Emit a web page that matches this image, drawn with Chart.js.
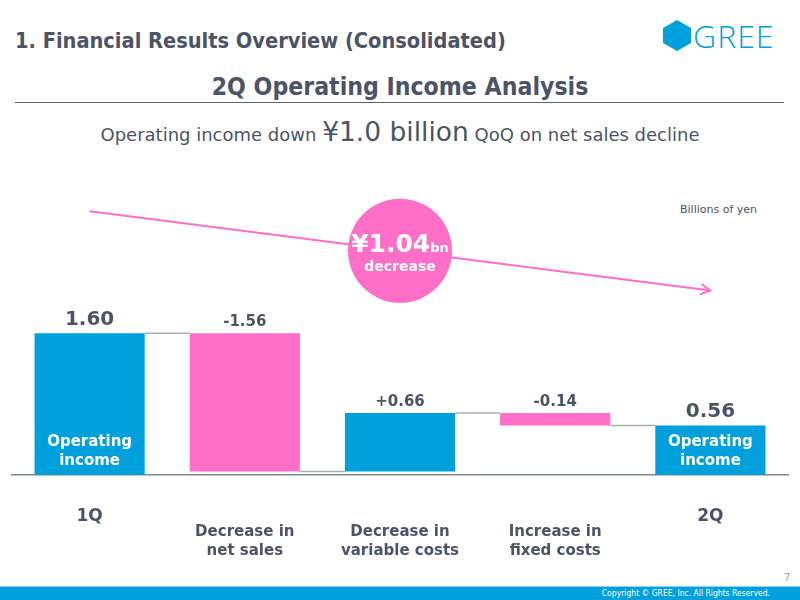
<!DOCTYPE html>
<html>
<head>
<meta charset="utf-8">
<script src="https://cdn.jsdelivr.net/npm/chart.js@4.4.1/dist/chart.umd.min.js"></script>
<style>
  html, body { margin: 0; padding: 0; background: #fff; }
  #page { position: relative; width: 800px; height: 600px; overflow: hidden; font-family: 'DejaVu Sans', sans-serif; color: #4b5466; }
  .abs { position: absolute; white-space: nowrap; }
  #title { left: 15px; top: 28px; font-family: 'DejaVu Sans Condensed', 'DejaVu Sans', sans-serif; font-weight: bold; font-size: 21.6px; }
  #logo { left: 662px; top: 20px; }
  #logoText { left: 693px; top: 14px; font-family: 'Open Sans', sans-serif; font-weight: 300; font-size: 32px; color: #00a0dc; letter-spacing: 1px; }
  #heading { left: 0; width: 800px; top: 72px; text-align: center; font-weight: bold; font-size: 24.6px; font-family: 'DejaVu Sans Condensed', 'DejaVu Sans', sans-serif; }
  #rule { left: 15px; top: 102px; width: 769px; height: 1px; background: #5a6270; }
  #subtitle { left: 0; width: 800px; top: 116px; text-align: center; font-size: 18px; }
  #subtitle .big { font-size: 26.5px; }
  #unit { left: 680px; top: 203px; font-size: 11px; }
  #pageNo { left: 784px; top: 572px; font-size: 10px; color: #9aa0a8; }
  #footer { left: 0; top: 586px; width: 800px; height: 14px; background: #00a0dc; border-top: 1px solid #8fd3ef; }
  #copy { right: 30px; top: 588px; font-family: 'DejaVu Sans Condensed', sans-serif; font-size: 8.5px; color: #fff; }
  #chartBox { position: absolute; left: 0; top: 0; width: 800px; height: 600px; }
</style>
</head>
<body>
<div id="page">
  <div class="abs" id="title">1. Financial Results Overview (Consolidated)</div>
  <svg class="abs" id="logo" width="30" height="31" viewBox="0 0 30 31"><polygon points="15,0 29,8 29,23 15,31 1,23 1,8" fill="#00a0dc"/></svg>
  <div class="abs" id="logoText">GREE</div>
  <div class="abs" id="heading">2Q Operating Income Analysis</div>
  <div class="abs" id="rule"></div>
  <div class="abs" id="subtitle">Operating income down <span class="big">¥1.0 billion</span> QoQ on net sales decline</div>
  <div class="abs" id="unit">Billions of yen</div>
  <div class="abs" id="pageNo">7</div>
  <div class="abs" id="footer"></div>
  <div class="abs" id="copy">Copyright © GREE, Inc. All Rights Reserved.</div>
  <div id="chartBox"><canvas id="waterfall"></canvas></div>
</div>
<script>
const labels = ['1Q', 'Decrease in net sales', 'Decrease in variable costs', 'Increase in fixed costs', '2Q'];
const tickLines = [['1Q'], ['Decrease in', 'net sales'], ['Decrease in', 'variable costs'], ['Increase in', 'fixed costs'], ['2Q']];
const changes = [1.60, -1.56, 0.66, -0.14, 0.56];
const isTotal = [true, false, false, false, true];
const valueLabels = ['1.60', '-1.56', '+0.66', '-0.14', '0.56'];
const badgeMain = '¥1.04';
const badgeUnit = 'bn';
const badgeText = 'decrease';

const BLUE = '#00a0dc';
const PINK = '#ff6ec7';
const TEXT = '#4b5466';

// running total -> floating bar ranges
let running = 0;
const ranges = changes.map((v, i) => {
  if (isTotal[i]) {
    running = v;
    return [0, v];
  }
  const start = running;
  running += v;
  return [start, running];
});

const decor = {
  id: 'decor',
  beforeDatasetsDraw(chart) {
    const { ctx, scales: { x } } = chart;
    const meta = chart.getDatasetMeta(0);
    const first = meta.data[0];
    const last = meta.data[meta.data.length - 1];
    // trend arrow from 1Q to 2Q
    const x1 = first.x, y1 = first.y - 122;
    const x2 = last.x, y2 = last.y - 135;
    ctx.save();
    ctx.strokeStyle = PINK;
    ctx.lineWidth = 2;
    ctx.beginPath();
    ctx.moveTo(x1, y1);
    ctx.lineTo(x2, y2);
    const ang = Math.atan2(y2 - y1, x2 - x1);
    ctx.moveTo(x2 - 11 * Math.cos(ang - 0.5), y2 - 11 * Math.sin(ang - 0.5));
    ctx.lineTo(x2, y2);
    ctx.lineTo(x2 - 11 * Math.cos(ang + 0.5), y2 - 11 * Math.sin(ang + 0.5));
    ctx.stroke();

    // badge circle
    const cx = x.getPixelForValue(2);
    const cy = (y1 + y2) / 2;
    ctx.fillStyle = PINK;
    ctx.beginPath();
    ctx.arc(cx, cy, 52, 0, Math.PI * 2);
    ctx.fill();
    ctx.fillStyle = '#fff';
    ctx.textBaseline = 'alphabetic';
    ctx.font = "bold 25px 'DejaVu Sans'";
    const w1 = ctx.measureText(badgeMain).width;
    ctx.font = "bold 13px 'DejaVu Sans'";
    const w2 = ctx.measureText(badgeUnit).width;
    const left = cx - (w1 + w2) / 2;
    ctx.textAlign = 'left';
    ctx.font = "bold 25px 'DejaVu Sans'";
    ctx.fillText(badgeMain, left, cy + 1);
    ctx.font = "bold 13px 'DejaVu Sans'";
    ctx.fillText(badgeUnit, left + w1, cy + 1);
    ctx.textAlign = 'center';
    ctx.font = "bold 14px 'DejaVu Sans'";
    ctx.fillText(badgeText, cx, cy + 20);
    ctx.restore();
  },
  afterDatasetsDraw(chart) {
    const { ctx, scales: { y } } = chart;
    const meta = chart.getDatasetMeta(0);
    const base = y.getPixelForValue(0);
    ctx.save();

    // connectors between bars
    ctx.strokeStyle = '#a9aeb5';
    ctx.lineWidth = 1.5;
    for (let i = 0; i < meta.data.length - 1; i++) {
      const a = meta.data[i], b = meta.data[i + 1];
      const ly = y.getPixelForValue(ranges[i][1]);
      ctx.beginPath();
      ctx.moveTo(a.x + a.width / 2, ly);
      ctx.lineTo(b.x - b.width / 2, ly);
      ctx.stroke();
    }

    ctx.textAlign = 'center';
    meta.data.forEach((bar, i) => {
      const top = y.getPixelForValue(Math.max(...ranges[i]));
      ctx.fillStyle = TEXT;
      ctx.textBaseline = 'alphabetic';
      if (isTotal[i]) {
        ctx.font = "bold 20px 'DejaVu Sans'";
        ctx.fillText(valueLabels[i], bar.x, top - 8);
        ctx.fillStyle = '#fff';
        ctx.font = "bold 15px 'DejaVu Sans'";
        ctx.textBaseline = 'middle';
        ctx.fillText('Operating', bar.x, base - 33);
        ctx.fillText('income', bar.x, base - 14);
      } else {
        ctx.font = "bold 15px 'DejaVu Sans'";
        ctx.fillText(valueLabels[i], bar.x, top - 7);
      }

      // category labels
      ctx.fillStyle = TEXT;
      ctx.textBaseline = 'middle';
      const lines = tickLines[i];
      if (lines.length === 1) {
        ctx.font = "bold 17px 'DejaVu Sans'";
        ctx.fillText(lines[0], bar.x, base + 42);
      } else {
        ctx.font = "bold 15px 'DejaVu Sans'";
        lines.forEach((t, k) => ctx.fillText(t, bar.x, base + 57 + k * 19));
      }
    });
    ctx.restore();
  }
};

new Chart(document.getElementById('waterfall').getContext('2d'), {
  type: 'bar',
  data: {
    labels: labels,
    datasets: [
      {
        data: ranges,
        backgroundColor: changes.map((v, i) => (isTotal[i] || v > 0 ? BLUE : PINK)),
        borderWidth: 0,
        borderSkipped: false,
        barPercentage: 0.71,
        categoryPercentage: 1
      }
    ]
  },
  options: {
    responsive: true,
    maintainAspectRatio: false,
    animation: false,
    layout: {
      padding: { top: 165, bottom: 125, left: 12, right: 12 }
    },
    plugins: {
      legend: { display: false },
      tooltip: { enabled: false }
    },
    scales: {
      x: {
        grid: { display: false, drawTicks: false },
        ticks: { display: false },
        border: { display: true, color: '#7f8793', width: 1.5 }
      },
      y: {
        display: false,
        min: 0,
        max: 3.5
      }
    }
  },
  plugins: [decor]
});
</script>
</body>
</html>
